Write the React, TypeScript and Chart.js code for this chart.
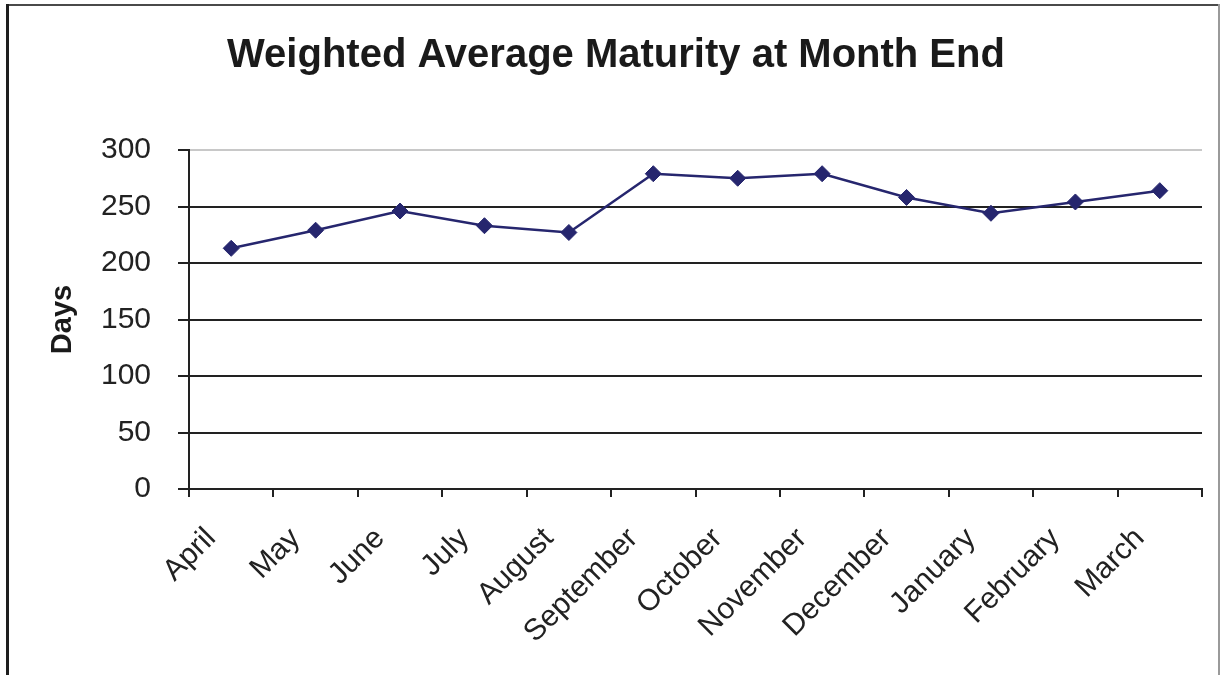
import { useEffect, useRef } from 'react';
import { Chart, registerables } from 'chart.js';

Chart.register(...registerables);

// Month-end weighted average maturity, in days
const months = [
  'April', 'May', 'June', 'July', 'August', 'September',
  'October', 'November', 'December', 'January', 'February', 'March',
];
const wamDays = [213, 229, 246, 233, 227, 279, 275, 279, 258, 244, 254, 264];
const yTickValues = [0, 50, 100, 150, 200, 250, 300];

const chartTitle = 'Weighted Average Maturity at Month End';
const yAxisTitle = 'Days';

const FONT = '"Liberation Sans", Arial, sans-serif';
const INK = '#222222';
const LINE = '#26266e';

// Outer frame around the whole figure and the centred heading
const framePlugin = {
  id: 'figureFrame',
  beforeDraw(chart: Chart) {
    const { ctx, width, height } = chart;
    ctx.save();
    ctx.fillStyle = '#ffffff';
    ctx.fillRect(0, 0, width, height);
    ctx.restore();
  },
  afterDraw(chart: Chart) {
    const { ctx, height } = chart;
    ctx.save();
    ctx.lineCap = 'butt';
    // top edge
    ctx.strokeStyle = '#4a4a4a';
    ctx.lineWidth = 2;
    ctx.beginPath();
    ctx.moveTo(6, 5);
    ctx.lineTo(1220, 5);
    ctx.stroke();
    // left edge
    ctx.strokeStyle = '#1e1e1e';
    ctx.lineWidth = 3;
    ctx.beginPath();
    ctx.moveTo(7.5, 4);
    ctx.lineTo(7.5, height);
    ctx.stroke();
    // right edge
    ctx.strokeStyle = '#9a9a9a';
    ctx.lineWidth = 2;
    ctx.beginPath();
    ctx.moveTo(1219, 4);
    ctx.lineTo(1219, height);
    ctx.stroke();

    // heading
    ctx.fillStyle = '#1a1a1a';
    ctx.font = `bold 40px ${FONT}`;
    ctx.textAlign = 'center';
    ctx.textBaseline = 'middle';
    ctx.fillText(chartTitle, 616, 56);
    ctx.restore();
  },
};

export default function App() {
  const canvasRef = useRef<HTMLCanvasElement | null>(null);

  useEffect(() => {
    const canvas = canvasRef.current;
    if (!canvas) return;

    const chart = new Chart(canvas, {
      type: 'line',
      data: {
        labels: months,
        datasets: [
          {
            label: 'WAM',
            data: wamDays,
            borderColor: LINE,
            backgroundColor: LINE,
            borderWidth: 2.5,
            pointStyle: 'rectRot',
            pointRadius: 8,
            pointHoverRadius: 8,
            pointBackgroundColor: LINE,
            pointBorderColor: LINE,
            pointBorderWidth: 1,
            tension: 0,
            fill: false,
          },
        ],
      },
      options: {
        responsive: false,
        animation: false,
        events: [],
        layout: { padding: { top: 150, right: 22, bottom: 0, left: 0 } },
        plugins: {
          legend: { display: false },
          title: { display: false },
          tooltip: { enabled: false },
        },
        scales: {
          x: {
            type: 'category',
            offset: true,
            grid: {
              offset: true,
              drawOnChartArea: false,
              drawTicks: true,
              tickLength: 8,
              color: INK,
              lineWidth: 2,
            },
            border: { display: true, color: INK, width: 2 },
            ticks: {
              autoSkip: false,
              minRotation: 45,
              maxRotation: 45,
              color: INK,
              padding: 24,
              labelOffset: -20,
              font: { family: FONT, size: 30 },
            },
            afterFit(scale: any) {
              scale.height = 186;
            },
          },
          y: {
            type: 'linear',
            min: 0,
            max: 300,
            afterBuildTicks(scale: any) {
              scale.ticks = yTickValues.map((v) => ({ value: v }));
            },
            grid: {
              color: (c: any) => (c.tick && c.tick.value === 300 ? '#c8c8c8' : INK),
              tickColor: INK,
              lineWidth: 2,
              tickLength: 11,
            },
            border: { display: true, color: INK, width: 2 },
            ticks: {
              color: INK,
              padding: 27,
              font: { family: FONT, size: 30 },
            },
            title: {
              display: true,
              text: yAxisTitle,
              color: '#1a1a1a',
              font: { family: FONT, size: 29, weight: 'bold' },
              padding: { top: 46, bottom: 0 },
            },
            afterFit(scale: any) {
              scale.width = 189;
            },
          },
        },
      },
      plugins: [framePlugin],
    });

    return () => {
      chart.destroy();
    };
  }, []);

  return (
    <div style={{ position: 'absolute', left: 0, top: 0, width: 1224, height: 675 }}>
      <canvas ref={canvasRef} width={1224} height={675} style={{ display: 'block' }} />
    </div>
  );
}
